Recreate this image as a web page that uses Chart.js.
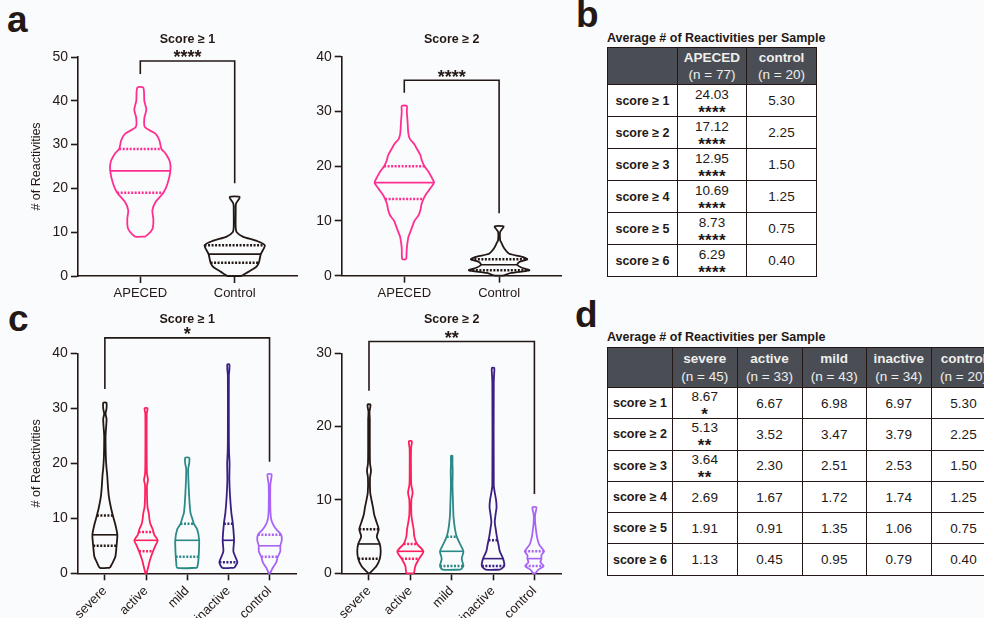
<!DOCTYPE html>
<html>
<head>
<meta charset="utf-8">
<script src="https://cdn.jsdelivr.net/npm/chart.js@4.4.1/dist/chart.umd.min.js"></script>
<style>
  body { margin: 0; width: 984px; height: 618px; overflow: hidden; background: #fafbfc; position: relative; font-family: "Liberation Sans", Arial, sans-serif; color: #231815; }
  canvas { position: absolute; }
  .letter { position: absolute; font-size: 37px; font-weight: bold; line-height: 38px; }
  .ttl { position: absolute; font-size: 12.5px; font-weight: bold; white-space: nowrap; }
  table { position: absolute; border-collapse: collapse; table-layout: fixed; }
  th, td { border: 1px solid #231815; text-align: center; padding: 0; overflow: hidden; white-space: nowrap; }
  th { background: #4a4e54; color: #eeeeee; font-weight: normal; font-size: 13.5px; line-height: 17.5px; }
  th b { font-weight: bold; }
  td { font-size: 13.5px; background: #ffffff; }
  td.lab { font-weight: bold; font-size: 12.5px; }
  .v { line-height: 12px; }
  .s { font-size: 17px; font-weight: bold; line-height: 12px; letter-spacing: 0.3px; position: relative; top: 6px; }
</style>
</head>
<body>
<div class="letter" style="left:7px; top:1px;">a</div>
<div class="letter" style="left:576px; top:-4px;">b</div>
<div class="letter" style="left:8px; top:300px;">c</div>
<div class="letter" style="left:575px; top:296px;">d</div>

<canvas id="a1" width="300" height="300" style="left:0; top:0;"></canvas>
<canvas id="a2" width="280" height="300" style="left:300px; top:0;"></canvas>
<canvas id="c1" width="300" height="318" style="left:0; top:300px;"></canvas>
<canvas id="c2" width="280" height="318" style="left:300px; top:300px;"></canvas>

<div class="ttl" style="left:607px; top:31px;">Average # of Reactivities per Sample</div>
<table id="tb" style="left:607px; top:47px; width:209px;"></table>
<div class="ttl" style="left:607px; top:330px;">Average # of Reactivities per Sample</div>
<table id="td" style="left:607px; top:347px; width:389px;"></table>

<script>
// panel a, score >= 1
var a1Cats = ['APECED', 'Control'];
var a1ApecedLv = [9, 10, 11, 13, 15, 17, 19, 21, 24, 26, 28, 29, 31, 32.5, 34, 36, 38, 40, 43];
var a1ApecedHw = [5, 10, 12.5, 13, 12, 15.5, 23, 27, 30, 29.5, 25, 21, 19, 15, 4.5, 4, 6, 4, 3];
var a1ApecedQ = [19, 24, 29];
var a1ControlLv = [0, 1, 2, 3, 5, 7, 8, 9, 10, 11, 15, 16.5, 18];
var a1ControlHw = [6.7, 14, 21, 24, 26, 30, 22, 8, 2, 1, 1, 1.3, 5];
var a1ControlQ = [3, 5, 7];
var a1Bracket = [46.1, 49.1, 21.2];

// panel a, score >= 2
var a2Cats = ['APECED', 'Control'];
var a2ApecedLv = [3, 5, 7, 8, 9, 10, 11, 12, 13, 14, 15, 16, 17, 18, 19, 20, 21, 22, 23, 24, 25, 26, 28, 30, 31];
var a2ApecedHw = [2, 2.5, 4, 6, 8, 10, 14, 16, 17, 19, 22, 26, 29.5, 27, 24, 20, 17.5, 16, 13, 10, 5.5, 4, 3.3, 2.5, 2.5];
var a2ApecedQ = [14, 17, 20];
var a2ControlLv = [0, 0.5, 1, 1.5, 2, 2.5, 3, 3.5, 4, 5, 6, 6.5, 8, 9];
var a2ControlHw = [4, 12, 30, 22, 18, 20, 28, 22, 10, 5, 2.3, 1, 1, 4.5];
var a2ControlQ = [1, 2, 3];
var a2Bracket = [33.4, 35.7, 11.4];

// panel c, score >= 1
var cCats = ['severe', 'active', 'mild', 'inactive', 'control'];
var c1SevereLv = [1, 2, 3, 5, 7, 9, 10.5, 12, 14, 16, 18, 19, 21, 25, 28, 29, 30, 31];
var c1SevereHw = [5, 8, 10.5, 11.7, 12.5, 10.3, 8, 6, 4, 3, 2.3, 1.7, 1, 0.7, 1.7, 0.7, 1.7, 1.5];
var c1SevereQ = [5, 7, 10.5];
var c1ActiveLv = [0, 1, 2, 3, 4, 5, 6, 7, 8, 9, 10, 11, 12, 14, 16, 17, 18, 20, 29, 30];
var c1ActiveHw = [0.5, 2, 3.3, 5, 7, 9.3, 11.7, 8.3, 6.7, 4.3, 3.3, 2.7, 1.5, 1, 1, 2, 1, 0.7, 0.7, 1.5];
var c1ActiveQ = [4, 6, 7.5];
var c1MildLv = [1, 2, 3, 6, 8, 9, 10, 11, 13, 15, 17, 19, 20, 21];
var c1MildHw = [10, 11, 11.5, 12, 10, 6.7, 5, 3.3, 2.3, 1.7, 1.2, 1, 2, 2];
var c1MildQ = [3, 6, 9];
var c1InactiveLv = [1, 2, 3, 4, 6, 9, 11, 14, 17, 20, 22, 25, 36, 37, 38];
var c1InactiveHw = [6, 9, 7, 5, 5.7, 4.5, 3, 1.7, 1, 1.2, 0.7, 0.5, 0.5, 1, 1];
var c1InactiveQ = [2, 6, 9];
var c1ControlLv = [0, 1, 2, 3, 4, 5, 6, 7, 8, 9, 10, 12, 16, 17, 18];
var c1ControlHw = [0.5, 3.3, 6.7, 8.3, 10.8, 10.8, 12.3, 11.7, 6.7, 3.3, 1.5, 0.8, 0.8, 1.5, 2];
var c1ControlQ = [3, 5, 7];
var c1Bracket = [33.5, 42.8, 20.3];

// panel c, score >= 2
var c2SevereLv = [0, 1, 2, 3, 4, 5, 6, 7, 8, 9, 10, 11, 13, 14, 15, 18, 21, 22, 23];
var c2SevereHw = [0.5, 7.5, 10.8, 11.7, 10.8, 7.8, 9.7, 7.5, 5.2, 4, 2.5, 1.2, 1, 2, 1, 0.8, 0.8, 0.5, 1.5];
var c2SevereQ = [2, 4, 6];
var c2ActiveLv = [0, 1, 2, 3, 4, 5, 6, 7, 8, 10, 11, 12, 13, 17, 18];
var c2ActiveHw = [3.7, 5, 8.8, 13, 6.7, 4, 3.3, 2, 1, 1, 2.3, 1, 0.7, 0.7, 1.5];
var c2ActiveQ = [2, 3, 4];
var c2MildLv = [0.5, 1, 2, 3, 4, 5, 6, 7, 8, 10, 12, 14, 15, 16];
var c2MildHw = [9, 11.7, 10, 11.7, 8.3, 5, 3.3, 2.3, 1.7, 1.2, 0.8, 1, 0.7, 0.7];
var c2MildQ = [1, 3, 5];
var c2InactiveLv = [0.5, 1, 2, 3, 4, 5, 6, 7, 8, 9, 10, 11, 12, 26, 27, 28];
var c2InactiveHw = [7, 11.2, 10, 6.7, 5.3, 3.8, 2.7, 1.7, 2.5, 3.5, 3, 1.7, 0.7, 0.7, 1, 1.2];
var c2InactiveQ = [1, 2, 4.5];
var c2ControlLv = [0, 0.5, 1, 1.5, 2, 2.5, 3, 3.5, 4, 5, 6, 7, 8, 9];
var c2ControlHw = [1, 4, 9.2, 6, 7, 7, 9.7, 7, 4.5, 2.5, 1.5, 0.7, 0.7, 2];
var c2ControlQ = [1, 2, 3];
var c2Bracket = [24.9, 31.6, 10.8];

// tables
var scoreRows = ['score ≥ 1', 'score ≥ 2', 'score ≥ 3', 'score ≥ 4', 'score ≥ 5', 'score ≥ 6'];
var bHeads = [['APECED', '(n = 77)'], ['control', '(n = 20)']];
var bApeced = [24.03, 17.12, 12.95, 10.69, 8.73, 6.29];
var bApecedSig = ['****', '****', '****', '****', '****', '****'];
var bControl = [5.30, 2.25, 1.50, 1.25, 0.75, 0.40];
var dHeads = [['severe', '(n = 45)'], ['active', '(n = 33)'], ['mild', '(n = 43)'], ['inactive', '(n = 34)'], ['control', '(n = 20)']];
var dSevere = [8.67, 5.13, 3.64, 2.69, 1.91, 1.13];
var dSevereSig = ['*', '**', '**', '', '', ''];
var dActive = [6.67, 3.52, 2.30, 1.67, 0.91, 0.45];
var dMild = [6.98, 3.47, 2.51, 1.72, 1.35, 0.95];
var dInactive = [6.97, 3.79, 2.53, 1.74, 1.06, 0.79];
var dControl = [5.30, 2.25, 1.50, 1.25, 0.75, 0.40];

var ink = '#231815';
var pink = '#ff2e93';
var red = '#ff2060';
var teal = '#2b8a87';
var indigo = '#3a1e82';
var lilac = '#a865f5';

Chart.defaults.font.family = '"Liberation Sans", Arial, sans-serif';
Chart.defaults.color = ink;

function hwAt(lv, hw, q) {
  for (var i = 1; i < lv.length; i++) {
    if (q <= lv[i]) {
      var t = (q - lv[i - 1]) / (lv[i] - lv[i - 1]);
      return hw[i - 1] + t * (hw[i] - hw[i - 1]);
    }
  }
  return hw[hw.length - 1];
}

// outline + median + quartiles for one group
function violin(idx, lv, hw, q, color, unit) {
  var right = lv.map(function (y, i) { return {x: idx + hw[i] / unit, y: y}; });
  var left = lv.map(function (y, i) { return {x: idx - hw[i] / unit, y: y}; }).reverse();
  var sets = [{
    data: right.concat(left, [right[0]]),
    borderColor: color, borderWidth: 1.8, tension: 0.25, showLine: true, pointRadius: 0, clip: false
  }];
  q.forEach(function (v, k) {
    var w = hwAt(lv, hw, v) / unit;
    sets.push({
      data: [{x: idx - w, y: v}, {x: idx + w, y: v}],
      borderColor: color, borderWidth: k === 1 ? 1.6 : 2.5, borderDash: k === 1 ? [] : [2, 1.5],
      showLine: true, pointRadius: 0, clip: false
    });
  });
  return sets;
}

var annot = {
  id: 'annot',
  afterDatasetsDraw: function (chart, args, o) {
    var ctx = chart.ctx, x = chart.scales.x, y = chart.scales.y;
    var mid = (x.getPixelForValue(0) + x.getPixelForValue(o.n - 1)) / 2;
    ctx.save();
    ctx.fillStyle = ink;
    ctx.textAlign = 'center';
    ctx.textBaseline = 'middle';
    ctx.font = 'bold 12.5px "Liberation Sans"';
    ctx.fillText(o.title, mid, o.titleY);
    ctx.textBaseline = 'alphabetic';
    ctx.font = 'bold 18px "Liberation Sans"';
    ctx.fillText(o.stars, mid, y.getPixelForValue(o.bracket[1]) + 2.5);
    ctx.restore();
  }
};

function panel(id, cats, groups, yMax, bracket, stars, title, box) {
  var datasets = [];
  groups.forEach(function (g, i) {
    datasets = datasets.concat(violin(i, g[0], g[1], g[2], g[3], box.unit));
  });
  var last = cats.length - 1;
  datasets.push({
    data: [{x: 0, y: bracket[0]}, {x: 0, y: bracket[1]}, {x: last, y: bracket[1]}, {x: last, y: bracket[2]}],
    borderColor: ink, borderWidth: 1.6, showLine: true, pointRadius: 0, clip: false
  });
  var rot = cats.length > 2 ? 45 : 0;
  new Chart(document.getElementById(id), {
    type: 'scatter',
    data: {datasets: datasets},
    options: {
      responsive: false,
      animation: false,
      layout: {padding: {top: box.top, right: box.right, left: 0, bottom: 0}},
      plugins: {
        legend: {display: false},
        tooltip: {enabled: false},
        annot: {n: cats.length, title: title, titleY: box.titleY, stars: stars, bracket: bracket}
      },
      scales: {
        x: {
          type: 'linear', min: -0.66, max: last + 0.66,
          afterBuildTicks: function (ax) { ax.ticks = cats.map(function (c, i) { return {value: i}; }); },
          afterFit: function (s) { s.height = box.xh; },
          ticks: {
            callback: function (v) { return cats[v]; },
            font: {size: 13}, color: ink, padding: 3, autoSkip: false,
            minRotation: rot, maxRotation: rot
          },
          grid: {drawOnChartArea: false, tickLength: 7, tickWidth: 1.6, tickColor: ink},
          border: {color: ink, width: 1.6}
        },
        y: {
          min: 0, max: yMax,
          afterFit: function (s) { s.width = box.yw; },
          ticks: {stepSize: 10, font: {size: 14}, color: ink, padding: 3},
          grid: {drawOnChartArea: false, tickLength: 7, tickWidth: 1.6, tickColor: ink},
          border: {color: ink, width: 1.6},
          title: {display: box.yw > 60, text: '# of Reactivities', font: {size: 12.5}, color: ink, padding: {top: 29.5, bottom: 0}}
        }
      }
    },
    plugins: [annot]
  });
}

panel('a1', a1Cats, [
  [a1ApecedLv, a1ApecedHw, a1ApecedQ, pink],
  [a1ControlLv, a1ControlHw, a1ControlQ, ink]
], 50, a1Bracket, '****', 'Score ≥ 1', {unit: 94, top: 57, right: 3, yw: 78, xh: 24, titleY: 40});

panel('a2', a2Cats, [
  [a2ApecedLv, a2ApecedHw, a2ApecedQ, pink],
  [a2ControlLv, a2ControlHw, a2ControlQ, ink]
], 40, a2Bracket, '****', 'Score ≥ 2', {unit: 94, top: 56.7, right: 18.3, yw: 41.7, xh: 24.3, titleY: 40});

panel('c1', cCats, [
  [c1SevereLv, c1SevereHw, c1SevereQ, ink],
  [c1ActiveLv, c1ActiveHw, c1ActiveQ, red],
  [c1MildLv, c1MildHw, c1MildQ, teal],
  [c1InactiveLv, c1InactiveHw, c1InactiveQ, indigo],
  [c1ControlLv, c1ControlHw, c1ControlQ, lilac]
], 40, c1Bracket, '*', 'Score ≥ 1', {unit: 41.3, top: 53.3, right: 3.3, yw: 77.7, xh: 44.7, titleY: 19.3});

panel('c2', cCats, [
  [c2SevereLv, c2SevereHw, c2SevereQ, ink],
  [c2ActiveLv, c2ActiveHw, c2ActiveQ, red],
  [c2MildLv, c2MildHw, c2MildQ, teal],
  [c2InactiveLv, c2InactiveHw, c2InactiveQ, indigo],
  [c2ControlLv, c2ControlHw, c2ControlQ, lilac]
], 30, c2Bracket, '**', 'Score ≥ 2', {unit: 41.3, top: 53.3, right: 18.3, yw: 41.7, xh: 44.7, titleY: 19.3});

// tables
function cell(v, sig) {
  if (!sig) return '<td>' + v.toFixed(2) + '</td>';
  return '<td><div class="v">' + v.toFixed(2) + '</div><div class="s">' + sig + '</div></td>';
}

function table(id, widths, heads, cols, sigs, headH, rowH) {
  var html = '<colgroup>' + widths.map(function (w) { return '<col style="width:' + w + 'px">'; }).join('') + '</colgroup>';
  html += '<tr style="height:' + headH + 'px"><th></th>' + heads.map(function (h) {
    return '<th><b>' + h[0] + '</b><br>' + h[1] + '</th>';
  }).join('') + '</tr>';
  scoreRows.forEach(function (r, i) {
    html += '<tr style="height:' + rowH + 'px"><td class="lab">' + r + '</td>';
    cols.forEach(function (c, k) { html += cell(c[i], sigs[k] ? sigs[k][i] : ''); });
    html += '</tr>';
  });
  document.getElementById(id).innerHTML = html;
}

table('tb', [70, 69, 70], bHeads, [bApeced, bControl], [bApecedSig, null], 37, 32);
table('td', [65, 64.5, 65, 64.5, 64.5, 65], dHeads, [dSevere, dActive, dMild, dInactive, dControl], [dSevereSig], 40, 31.3);
</script>
</body>
</html>
